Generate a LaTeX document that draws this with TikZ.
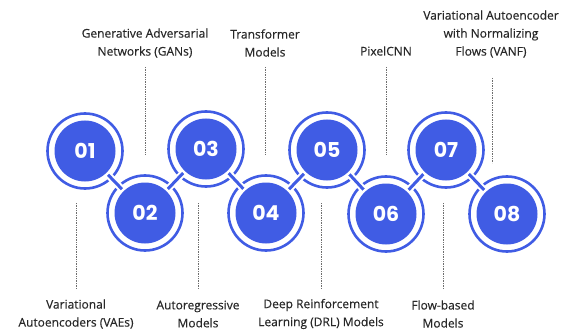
\documentclass[tikz,border=0pt]{standalone}
\usepackage{fontspec}
\setmainfont{Open Sans}
\newfontfamily\labfont{Open Sans}[FakeBold=0.35]
\newfontfamily\numfont{Poppins}
\definecolor{cblue}{RGB}{64,92,228}
\definecolor{ctext}{RGB}{40,40,40}
\definecolor{cdot}{RGB}{110,110,110}
\begin{document}
\begin{tikzpicture}[x=1pt,y=-1pt,
  ringst/.style={draw=cblue,line width=2.6pt},
  discst/.style={fill=cblue},
  linkw/.style={draw=white,line width=7pt},
  linkb/.style={draw=cblue,line width=3pt},
  numst/.style={text=white,font=\numfont\bfseries\fontsize{20.5}{20.5}\selectfont},
  lab/.style={text=ctext,font=\labfont\fontsize{12}{18}\selectfont,align=center},
  dotln/.style={draw=cdot,line width=0.7pt,dash pattern=on 0.8pt off 0.9pt}]
\useasboundingbox (0,0) rectangle (569,331);
% centres
\coordinate (c1) at (85,151);
\coordinate (c2) at (145,213);
\coordinate (c3) at (206,149);
\coordinate (c4) at (266,213);
\coordinate (c5) at (327,150);
\coordinate (c6) at (386,214);
\coordinate (c7) at (446,150);
\coordinate (c8) at (507,214);
% rings
\foreach \i in {1,...,8} \path[ringst] (c\i) circle (37.5);
% links
\foreach \a/\b in {1/2,2/3,3/4,4/5,5/6,6/7,7/8} {
  \path[linkw] (c\a) -- (c\b);
  \path[linkb] (c\a) -- (c\b);
}
% discs and numbers
\foreach \i in {1,...,8} {
  \path[fill=white] (c\i) circle (33);
  \path[discst] (c\i) circle (30.5);
  \node[numst] (n\i) at (c\i) {0\i};
}
% top labels
\node[lab] (t2) at (145,43) {Generative Adversarial\\Networks (GANs)};
\node[lab] (t4) at (265,43) {Transformer\\Models};
\node[lab] (t6) at (386,51) {PixelCNN};
\node[lab] (t8) at (491,34) {Variational Autoencoder\\with Normalizing\\Flows (VANF)};
% bottom labels
\node[lab] (b1) at (76,314) {Variational\\Autoencoders (VAEs)};
\node[lab] (b3) at (198,314) {Autoregressive\\Models};
\node[lab] (b5) at (321,314) {Deep Reinforcement\\Learning (DRL) Models};
\node[lab] (b7) at (443,314) {Flow-based\\Models};
% dotted leaders
\coordinate (d2a) at (145,67); \coordinate (d2b) at (145,155);
\coordinate (d4a) at (265,67); \coordinate (d4b) at (265,155);
\coordinate (d6a) at (386,67); \coordinate (d6b) at (386,155);
\coordinate (d8a) at (492,78); \coordinate (d8b) at (492,163);
\coordinate (d1a) at (76,203); \coordinate (d1b) at (76,289);
\coordinate (d3a) at (198,203); \coordinate (d3b) at (198,289);
\coordinate (d5a) at (321,203); \coordinate (d5b) at (321,289);
\coordinate (d7a) at (443,203); \coordinate (d7b) at (443,289);
\foreach \k in {1,...,8} \path[dotln] (d\k a) -- (d\k b);
\end{tikzpicture}
\end{document}
